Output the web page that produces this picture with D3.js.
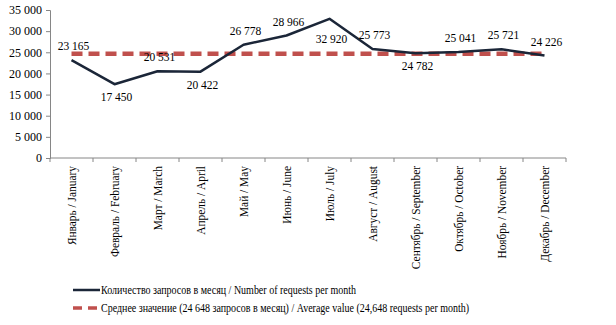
<!DOCTYPE html>
<html>
<head>
<meta charset="utf-8">
<script src="https://cdn.jsdelivr.net/npm/d3@7"></script>
</head>
<body style="margin:0; background:#fff">
<svg id="chart" width="616" height="325"></svg>
<script>
// months (Russian / English)
const months = ["Январь / January", "Февраль / February", "Март / March", "Апрель / April",
  "Май / May", "Июнь / June", "Июль / July", "Август / August", "Сентябрь / September",
  "Октябрь / October", "Ноябрь / November", "Декабрь / December"];
const requests = [23165, 17450, 20531, 20422, 26778, 28966, 32920, 25773, 24782, 25041, 25721, 24226];
const average = 24648;
const yTicks = [0, 5000, 10000, 15000, 20000, 25000, 30000, 35000];
// where the value label sits relative to the point
const labelSide = ["above", "below", "above", "below", "above", "above", "farBelow", "above", "below", "above", "above", "above"];
const legendLabels = [
  "Количество запросов в месяц / Number of requests per month",
  "Среднее значение (24 648 запросов в месяц) / Average value (24,648 requests per month)"
];

const svg = d3.select("#chart");
const plotLeft = 50, plotRight = 566, plotTop = 10, plotBottom = 158;
const lineColor = "#1b2638", avgColor = "#c0504d", axisColor = "#868686";
const serif = '"Liberation Serif"';
const labelOffset = { above: -10, below: 17, farBelow: 24 };

const fmt = v => d3.format(",")(v).replace(/,/g, " ");

let x = d3.scaleBand().domain(months).range([plotLeft, plotRight]);
let y = d3.scaleLinear().domain([0, 35000]).range([plotBottom, plotTop]);

// y axis
let yAxis = svg.append("g").attr("transform", `translate(${plotLeft},0)`)
  .call(d3.axisLeft(y).tickValues(yTicks).tickSize(4).tickFormat(fmt));
yAxis.select(".domain").attr("stroke", axisColor);
yAxis.selectAll(".tick line").attr("stroke", axisColor);
yAxis.selectAll(".tick text").attr("x", -8)
  .style("font-size", "12px").style("font-family", serif).attr("fill", "#000");

// x axis with ticks at category boundaries
let xAxisG = svg.append("g").attr("transform", `translate(0,${plotBottom})`);
xAxisG.append("line").attr("x1", plotLeft).attr("x2", plotRight).attr("stroke", axisColor);
xAxisG.selectAll("line.tk")
  .data(months.concat(["end"]))
  .join("line")
  .attr("class", "tk")
  .attr("x1", (d, i) => plotLeft + i * x.bandwidth())
  .attr("x2", (d, i) => plotLeft + i * x.bandwidth())
  .attr("y1", 0).attr("y2", 4)
  .attr("stroke", axisColor);
xAxisG.selectAll("text")
  .data(months)
  .join("text")
  .attr("transform", d => `translate(${x(d) + x.bandwidth() / 2 + 4},8) rotate(-90) scale(0.95,1)`)
  .attr("text-anchor", "end")
  .style("font-size", "12px").style("font-family", serif)
  .text(d => d);

const cx = (d, i) => x(months[i]) + x.bandwidth() / 2;

// average line
svg.append("line")
  .attr("x1", x(months[0]) + x.bandwidth() / 2)
  .attr("x2", x(months[11]) + x.bandwidth() / 2)
  .attr("y1", y(average)).attr("y2", y(average))
  .attr("stroke", avgColor)
  .attr("stroke-width", 4.5)
  .attr("stroke-dasharray", "11,6");

// requests line
svg.append("path")
  .datum(requests)
  .attr("fill", "none")
  .attr("stroke", lineColor)
  .attr("stroke-width", 2.5)
  .attr("stroke-linejoin", "round")
  .attr("d", d3.line().x(cx).y(d => y(d)));

// value labels
svg.append("g").selectAll("text")
  .data(requests)
  .join("text")
  .attr("x", (d, i) => cx(d, i) + 2)
  .attr("y", (d, i) => y(d) + labelOffset[labelSide[i]])
  .attr("text-anchor", "middle")
  .style("font-size", "11.5px").style("font-family", serif)
  .text(d => fmt(d));

// legend
let legend = svg.append("g");
legend.append("line").attr("x1", 73).attr("x2", 100).attr("y1", 290).attr("y2", 290)
  .attr("stroke", lineColor).attr("stroke-width", 2.5);
legend.append("line").attr("x1", 73).attr("x2", 100).attr("y1", 308).attr("y2", 308)
  .attr("stroke", avgColor).attr("stroke-width", 3.5).attr("stroke-dasharray", "9,6");
legend.selectAll("text")
  .data(legendLabels)
  .join("text")
  .attr("transform", (d, i) => `translate(101,${294 + i * 18}) scale(0.87,1)`)
  .style("font-size", "11.5px").style("font-family", serif)
  .text(d => d);
</script>
</body>
</html>
